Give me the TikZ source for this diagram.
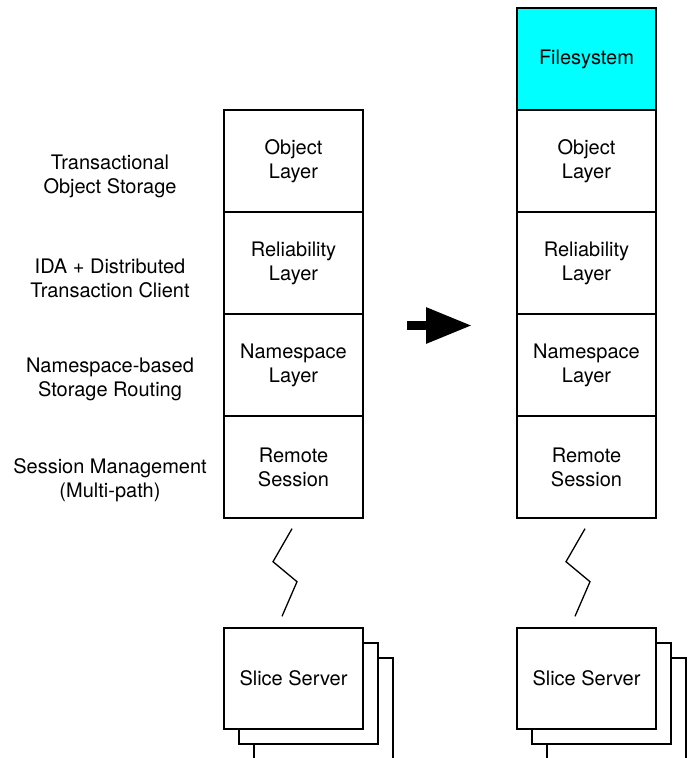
\documentclass[tikz,border=0pt]{standalone}
\usepackage{fontspec}
\setmainfont{TeX Gyre Heros}
\usetikzlibrary{arrows.meta}
\definecolor{fscyan}{RGB}{0,255,255}
\tikzset{
	layer/.style={draw, line width=1.4pt, minimum width=139pt, minimum height=102pt, align=center, inner sep=0pt},
	side/.style={align=center, inner sep=0pt},
}
\begin{document}
\begin{tikzpicture}[x=1pt,y=-1pt,font=\fontsize{20}{24}\selectfont]
	\useasboundingbox (0,0) rectangle (688,758);
	\clip (0,0) rectangle (688,758);
	% the two stacks
	\foreach \s/\x in {L/293.5, R/586.5}{
		\foreach \n/\y/\t in {obj/161/Object\\Layer, rel/263/Reliability\\Layer, ns/365/Namespace\\Layer, rem/467/Remote\\Session}
			\node[layer] (\n\s) at (\x,\y) {\t};
		\foreach \d in {30,15}
			\draw[line width=1.4pt, fill=white] (\x-69.5+\d,628+\d) rectangle ++(139,101);
		\node[layer, minimum height=101pt, fill=white] (slice\s) at (\x,678.5) {Slice Server};
		\draw[line width=1.3pt] (rem\s.south) ++(-1.5,10) -- ++(-19,33) -- ++(24,20) -- ([xshift=-11.5pt,yshift=11pt]slice\s.north);
	}
	\node[layer, fill=fscyan] (fs) at (586.5,59) {Filesystem};
	% labels on the left
	\foreach \y/\t [count=\i] in {176/Transactional\\Object Storage, 278/IDA + Distributed\\Transaction Client, 379/Namespace-based\\Storage Routing, 480/Session Management\\(Multi-path)}
		\node[side] (lbl\i) at (110,\y) {\t};
	% arrow between stacks
	\draw[line width=9pt, -{Triangle[length=46pt,width=34pt]}] (407,325.5) -- (472,325.5);
\end{tikzpicture}
\end{document}
